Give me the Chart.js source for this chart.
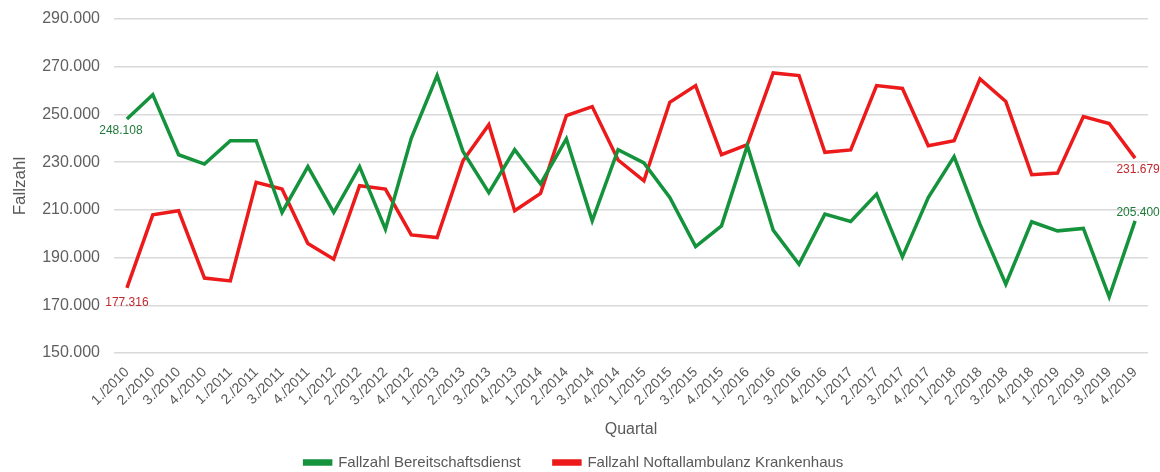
<!DOCTYPE html>
<html>
<head>
<meta charset="utf-8">
<script src="https://cdn.jsdelivr.net/npm/chart.js@4"></script>
<style>
  html, body { margin: 0; padding: 0; background: #fff; }
  #wrap { width: 1160px; height: 472px; }
</style>
</head>
<body>
<div id="wrap"><canvas id="chart" width="1160" height="472"></canvas></div>
<script>
const quarters = [];
for (let y = 2010; y <= 2019; y++) {
    for (let q = 1; q <= 4; q++) quarters.push(q + './' + y);
}

const bereitschaft = [
    248108, 258300, 233100, 229200, 239000, 239000, 208900, 228100,
    208900, 228100, 201900, 240000, 266300, 234500, 217200, 235200,
    220900, 239800, 205400, 235200, 229700, 215200, 194600, 203300,
    236900, 201500, 187200, 208200, 205100, 216600, 190300, 215200,
    232300, 204000, 178800, 205000, 201200, 202200, 173500, 205400
];

const notfall = [
    177316, 207900, 209600, 181400, 180200, 221500, 218700, 195900,
    189300, 220100, 218700, 199500, 198400, 230600, 245700, 209600,
    216900, 249500, 253300, 230900, 222200, 255100, 262100, 233100,
    237300, 267400, 266300, 234100, 235100, 262100, 260900, 236900,
    239000, 264900, 255400, 224700, 225400, 249100, 246200, 231679
];

const yTicks = { min: 150000, max: 290000, step: 20000 };

const greenLine = '#14933c';
const redLine = '#ec1a1a';
const grey = '#595959';
const fontFamily = '"Liberation Sans", Arial, sans-serif';

function fmt(v) {
    return String(Math.round(v)).replace(/\B(?=(\d{3})+(?!\d))/g, '.');
}

// Beschriftung am ersten und letzten Punkt
const endLabels = {
    id: 'endLabels',
    afterDatasetsDraw(chart) {
        const ctx = chart.ctx;
        const spec = [
            { ds: 0, color: '#1f7a3a', first: [-6, 12], last: [3, -8] },
            { ds: 1, color: '#c0282d', first: [0, 15], last: [3, 12] }
        ];
        ctx.save();
        ctx.font = '12px ' + fontFamily;
        ctx.textAlign = 'center';
        ctx.textBaseline = 'middle';
        spec.forEach(s => {
            const meta = chart.getDatasetMeta(s.ds);
            const data = chart.data.datasets[s.ds].data;
            const p0 = meta.data[0];
            const pN = meta.data[meta.data.length - 1];
            ctx.fillStyle = s.color;
            ctx.fillText(fmt(data[0]), p0.x + s.first[0], p0.y + s.first[1]);
            ctx.fillText(fmt(data[data.length - 1]), pN.x + s.last[0], pN.y + s.last[1]);
        });
        ctx.restore();
    }
};

new Chart(document.getElementById('chart'), {
    type: 'line',
    data: {
        labels: quarters,
        datasets: [
            {
                label: 'Fallzahl Bereitschaftsdienst',
                data: bereitschaft,
                borderColor: greenLine,
                backgroundColor: greenLine,
                borderWidth: 3.5,
                pointRadius: 0,
                tension: 0,
                fill: false
            },
            {
                label: 'Fallzahl Noftallambulanz Krankenhaus',
                data: notfall,
                borderColor: redLine,
                backgroundColor: redLine,
                borderWidth: 3.5,
                pointRadius: 0,
                tension: 0,
                fill: false
            }
        ]
    },
    options: {
        responsive: false,
        animation: false,
        layout: { padding: { top: 19, right: 12, left: 0, bottom: -8 } },
        plugins: {
            legend: {
                position: 'bottom',
                labels: {
                    boxWidth: 26,
                    boxHeight: 3,
                    padding: 4,
                    color: grey,
                    font: { size: 15, family: fontFamily },
                    generateLabels(chart) {
                        const items = Chart.defaults.plugins.legend.labels.generateLabels(chart);
                        // etwas Abstand zwischen den beiden Einträgen
                        items[0].text += '       ';
                        return items;
                    }
                }
            },
            tooltip: { enabled: false }
        },
        scales: {
            x: {
                offset: true,
                grid: { display: false, drawTicks: false },
                border: { display: false },
                ticks: {
                    autoSkip: false,
                    maxRotation: 45,
                    minRotation: 45,
                    padding: 11,
                    color: grey,
                    font: { size: 14, family: fontFamily }
                },
                title: {
                    display: true,
                    text: 'Quartal',
                    color: grey,
                    padding: { top: 4, bottom: 12 },
                    font: { size: 16, family: fontFamily }
                },
                afterFit(axis) { axis.height = 98; }
            },
            y: {
                min: yTicks.min,
                max: yTicks.max,
                grid: { color: '#d9d9d9', lineWidth: 1.5, drawTicks: false },
                border: { display: false },
                ticks: {
                    stepSize: yTicks.step,
                    padding: 14,
                    color: '#606060',
                    font: { size: 16, family: fontFamily },
                    callback: v => fmt(v)
                },
                title: {
                    display: true,
                    text: 'Fallzahl',
                    color: grey,
                    padding: { top: 10, bottom: 0 },
                    font: { size: 17, family: fontFamily }
                },
                afterFit(axis) {
                    axis.width = 114;
                    axis.paddingTop = 0;
                    axis.paddingBottom = 0;
                }
            }
        }
    },
    plugins: [endLabels]
});
</script>
</body>
</html>
